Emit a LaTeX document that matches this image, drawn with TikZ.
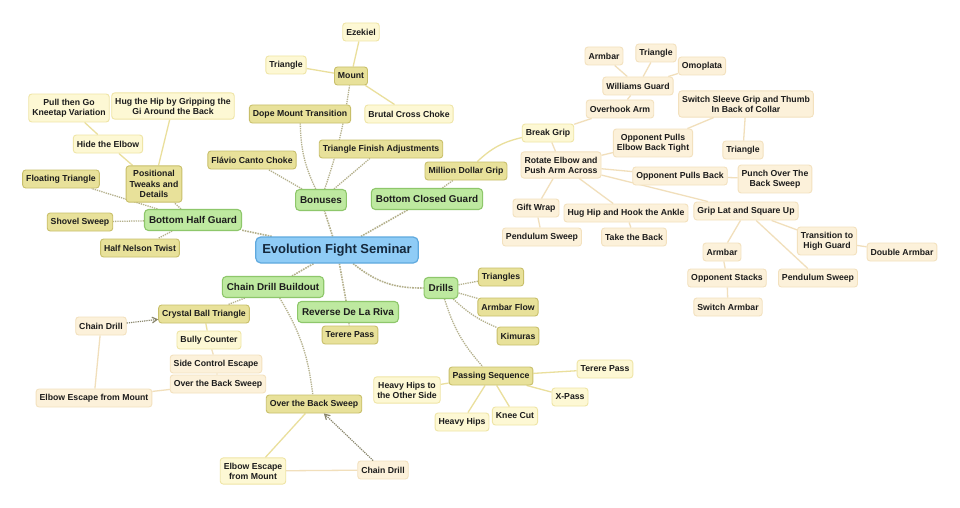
\documentclass[tikz,border=0pt]{standalone}
\usepackage{fontspec}
\setmainfont{Liberation Sans}
\usetikzlibrary{arrows,backgrounds}
\definecolor{ink}{HTML}{1C1C1C}
\definecolor{hubink}{HTML}{14283C}
\definecolor{hubfill}{HTML}{8FCCF6}
\definecolor{hubline}{HTML}{5FA9DE}
\definecolor{topicfill}{HTML}{BEE9A0}
\definecolor{topicline}{HTML}{8EC76B}
\definecolor{subfill}{HTML}{E8E19A}
\definecolor{subline}{HTML}{C8BF6A}
\definecolor{leaffill}{HTML}{FDF8D4}
\definecolor{leafline}{HTML}{EFE5A6}
\definecolor{twigfill}{HTML}{FCF1DA}
\definecolor{twigline}{HTML}{F3E1BE}
\definecolor{dotline}{HTML}{B4B08C}
\definecolor{stalkline}{HTML}{EADF9C}
\definecolor{twigwire}{HTML}{F1DFBB}
\tikzset{x=1pt, y=-1pt,
  hub/.style={draw=hubline, fill=hubfill, line width=1.2pt, rounded corners=5pt, text=hubink, font=\bfseries\fontsize{13}{15}\selectfont, inner xsep=6.5pt, minimum height=26pt},
  topic/.style={draw=topicline, fill=topicfill, line width=1.1pt, rounded corners=4pt, text=ink, font=\bfseries\fontsize{9.9}{12}\selectfont, inner xsep=4.5pt, minimum height=21pt},
  mapnode/.style={line width=0.9pt, rounded corners=3pt, text=ink, font=\bfseries\fontsize{8.7}{10.2}\selectfont, align=center, inner xsep=3.5pt, inner ysep=4.8pt, minimum height=18pt},
  subbox/.style={mapnode, draw=subline, fill=subfill},
  leafbox/.style={mapnode, draw=leafline, fill=leaffill},
  twigbox/.style={mapnode, draw=twigline, fill=twigfill},
  trunk/.style={draw=dotline, line width=1.6pt, densely dotted},
  bough/.style={draw=dotline, line width=1.3pt, densely dotted},
  stalk/.style={draw=stalkline, line width=1.3pt},
  twig/.style={draw=twigwire, line width=1.3pt},
  loopback/.style={draw=dotline!75!black, line width=1.2pt, densely dotted, ->, >=angle 60}
}

\begin{document}
\begin{tikzpicture}
    % centre and first ring
    \node[hub] (hub) at (337,250) {Evolution Fight Seminar};
    \node[topic] (bon) at (321,200) {Bonuses};
    \node[topic] (bcg) at (427,199) {Bottom Closed Guard};
    \node[topic] (bhg) at (193,220) {Bottom Half Guard};
    \node[topic] (cdb) at (273,287) {Chain Drill Buildout};
    \node[topic] (rdlr) at (348,312) {Reverse De La Riva};
    \node[topic] (dri) at (441,288) {Drills};

    % second ring
    \node[subbox] (mnt) at (351,76) {Mount};
    \node[subbox] (dmt) at (300,114) {Dope Mount Transition};
    \node[subbox] (tfa) at (381,149) {Triangle Finish Adjustments};
    \node[subbox] (fcc) at (252,160) {Flávio Canto Choke};
    \node[subbox] (mdg) at (466,171) {Million Dollar Grip};
    \node[subbox] (ptd) at (154,184) {Positional\\Tweaks and\\Details};
    \node[subbox] (flt) at (61,179) {Floating Triangle};
    \node[subbox] (shs) at (80,222) {Shovel Sweep};
    \node[subbox] (hnt) at (140,248) {Half Nelson Twist};
    \node[subbox] (cbt) at (204,314) {Crystal Ball Triangle};
    \node[subbox] (ter) at (350,335) {Terere Pass};
    \node[subbox] (tri) at (501,277) {Triangles};
    \node[subbox] (arf) at (508,307) {Armbar Flow};
    \node[subbox] (kim) at (518,336) {Kimuras};
    \node[subbox] (pas) at (491,376) {Passing Sequence};
    \node[subbox] (obs) at (314,404) {Over the Back Sweep};

    % third ring
    \node[leafbox] (eze) at (361,32) {Ezekiel};
    \node[leafbox] (mtri) at (286,65) {Triangle};
    \node[leafbox] (bcc) at (409,114) {Brutal Cross Choke};
    \node[leafbox] (pgk) at (69,108) {Pull then Go\\Kneetap Variation};
    \node[leafbox] (hhg) at (173,106) {Hug the Hip by Gripping the\\Gi Around the Back};
    \node[leafbox] (hte) at (108,144) {Hide the Elbow};
    \node[leafbox] (brg) at (548,133) {Break Grip};
    \node[leafbox] (bul) at (209,340) {Bully Counter};
    \node[leafbox] (hho) at (407,390) {Heavy Hips to\\the Other Side};
    \node[leafbox] (hvh) at (462,422) {Heavy Hips};
    \node[leafbox] (knc) at (515,416) {Knee Cut};
    \node[leafbox] (xps) at (570,397) {X-Pass};
    \node[leafbox] (ptp) at (605,369) {Terere Pass};
    \node[leafbox] (eem2) at (253,471) {Elbow Escape\\from Mount};

    % outer ring
    \node[twigbox] (ovh) at (620,109) {Overhook Arm};
    \node[twigbox] (wgd) at (638,86) {Williams Guard};
    \node[twigbox] (warm) at (604,56) {Armbar};
    \node[twigbox] (wtri) at (656,53) {Triangle};
    \node[twigbox] (omo) at (702,66) {Omoplata};
    \node[twigbox] (ssg) at (746,104) {Switch Sleeve Grip and Thumb\\In Back of Collar};
    \node[twigbox] (opt) at (653,143) {Opponent Pulls\\Elbow Back Tight};
    \node[twigbox] (rea) at (561,165) {Rotate Elbow and\\Push Arm Across};
    \node[twigbox] (stri) at (743,150) {Triangle};
    \node[twigbox] (opb) at (680,176) {Opponent Pulls Back};
    \node[twigbox] (pob) at (775,179) {Punch Over The\\Back Sweep};
    \node[twigbox] (gfw) at (536,208) {Gift Wrap};
    \node[twigbox] (hha) at (626,213) {Hug Hip and Hook the Ankle};
    \node[twigbox] (gls) at (746,211) {Grip Lat and Square Up};
    \node[twigbox] (pds) at (542,237) {Pendulum Sweep};
    \node[twigbox] (ttb) at (634,237) {Take the Back};
    \node[twigbox] (thg) at (827,241) {Transition to\\High Guard};
    \node[twigbox] (dab) at (902,252) {Double Armbar};
    \node[twigbox] (garm) at (722,252) {Armbar};
    \node[twigbox] (ost) at (727,278) {Opponent Stacks};
    \node[twigbox] (gps) at (818,278) {Pendulum Sweep};
    \node[twigbox] (swa) at (728,307) {Switch Armbar};
    \node[twigbox] (cd1) at (101,326) {Chain Drill};
    \node[twigbox] (sce) at (216,364) {Side Control Escape};
    \node[twigbox] (obs2) at (218,384) {Over the Back Sweep};
    \node[twigbox] (eem1) at (94,398) {Elbow Escape from Mount};
    \node[twigbox] (cd2) at (383,470) {Chain Drill};

    \begin{pgfonlayer}{background}
    \path[use as bounding box, fill=white] (0,0) rectangle (960,508);
    \path[trunk] (hub) edge (bon) edge (bcg) edge (bhg) edge (cdb) edge (rdlr) edge[bend right=20] (dri);
    \path[bough] (bon) edge[bend right=5] (mnt) edge[bend left=12] (dmt) edge (tfa) edge (fcc);
    \path[bough] (bcg) edge (mdg);
    \path[bough] (bhg) edge (ptd) edge (flt) edge (shs) edge (hnt);
    \path[bough] (cdb) edge (cbt) edge[bend left=12] (obs);
    \path[bough] (rdlr) edge (ter);
    \path[bough] (dri) edge (tri) edge (arf) edge[bend right=10] (kim) edge[bend right=12] (pas);
    \path[stalk] (mnt) edge (eze) edge (mtri) edge (bcc);
    \path[stalk] (ptd) edge (hte) edge (hhg);
    \path[stalk] (hte) edge (pgk);
    \path[stalk] (mdg) edge[bend left=15] (brg);
    \path[stalk] (cbt) edge (bul);
    \path[stalk] (pas) edge (hho) edge (hvh) edge (knc) edge (xps) edge (ptp);
    \path[stalk] (obs) edge (eem2);
    \path[twig] (brg) edge (ovh) edge (rea);
    \path[twig] (ovh) edge (wgd);
    \path[twig] (wgd) edge (warm) edge (wtri) edge (omo);
    \path[twig] (rea) edge (opt) edge (opb) edge (gfw) edge (hha) edge (gls);
    \path[twig] (opt) edge (ssg);
    \path[twig] (ssg) edge (stri);
    \path[twig] (opb) edge (pob);
    \path[twig] (gfw) edge (pds);
    \path[twig] (hha) edge (ttb);
    \path[twig] (gls) edge (garm) edge (gps) edge (thg);
    \path[twig] (garm) edge (ost);
    \path[twig] (ost) edge (swa);
    \path[twig] (thg) edge (dab);
    \path[twig] (bul) edge (sce);
    \path[twig] (sce) edge (obs2);
    \path[twig] (obs2) edge (eem1);
    \path[twig] (eem1) edge (cd1);
    \path[twig] (eem2) edge (cd2);
    \end{pgfonlayer}
    \path[loopback] (cd1) edge (cbt);
    \path[loopback] (cd2) edge (obs);
\end{tikzpicture}
\end{document}
